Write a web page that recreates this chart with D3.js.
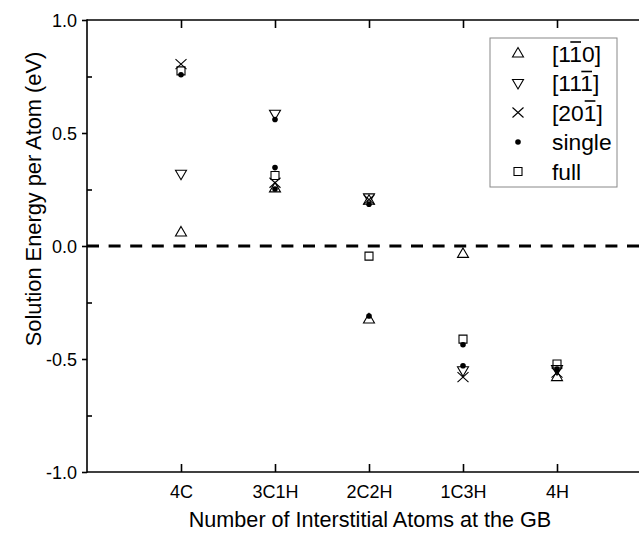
<!DOCTYPE html>
<html lang="en">
	<head>
		<meta charset="UTF-8" />
		<title>Solution Energy per Atom</title>
		<script src="https://d3js.org/d3.v7.min.js"></script>
		<style>
			html, body {
				margin: 0;
				padding: 0;
				background: #fff;
			}
			svg {
				font-family: 'Liberation Sans', Arial, sans-serif;
				display: block;
			}
		</style>
	</head>
	<body>
		<svg id="chart" width="639" height="539"></svg>
		<script>
			const categories = ['4C', '3C1H', '2C2H', '1C3H', '4H'];
			const yTicks = [-1.0, -0.5, 0.0, 0.5, 1.0];
			const yMinorTicks = [-0.75, -0.25, 0.25, 0.75];

			// [category, value] pairs
			const dir110 = [['4C', 0.06], ['3C1H', 0.255], ['2C2H', 0.2], ['2C2H', -0.325], ['1C3H', -0.035], ['4H', -0.58]];
			const dir111 = [['4C', 0.32], ['3C1H', 0.585], ['2C2H', 0.215], ['1C3H', -0.55], ['4H', -0.545]];
			const dir201 = [['4C', 0.805], ['3C1H', 0.28], ['2C2H', 0.205], ['1C3H', -0.58], ['4H', -0.56]];
			const single = [['4C', 0.758], ['3C1H', 0.56], ['3C1H', 0.347], ['3C1H', 0.252], ['2C2H', 0.185], ['2C2H', -0.31], ['1C3H', -0.437], ['1C3H', -0.53], ['4H', -0.545]];
			const full = [['4C', 0.775], ['3C1H', 0.312], ['2C2H', -0.045], ['1C3H', -0.412], ['4H', -0.522]];

			const svg = d3.select('#chart');
			const margin = { left: 87, top: 20, bottom: 472 };
			const step = 94;

			// category i sits at i+1 on a 0..6 band; the right frame falls off the picture
			const x = d3
				.scaleLinear()
				.domain([0, categories.length + 1])
				.range([margin.left, margin.left + step * (categories.length + 1)]);
			const xc = (c) => x(categories.indexOf(c) + 1);

			const y = d3.scaleLinear().domain([-1, 1]).range([margin.bottom, margin.top]);

			const right = x(categories.length + 1);

			// zero line
			svg
				.append('line')
				.attr('x1', margin.left)
				.attr('x2', right)
				.attr('y1', y(0))
				.attr('y2', y(0))
				.attr('stroke', '#000')
				.attr('stroke-width', 3)
				.attr('stroke-dasharray', '12,9.6');

			// frame
			const frame = svg.append('g').attr('stroke', '#000').attr('stroke-width', 1.6);
			frame.append('line').attr('x1', margin.left).attr('x2', right).attr('y1', margin.top).attr('y2', margin.top);
			frame.append('line').attr('x1', margin.left).attr('x2', right).attr('y1', margin.bottom).attr('y2', margin.bottom);
			frame.append('line').attr('x1', margin.left).attr('x2', margin.left).attr('y1', margin.top - 0.8).attr('y2', margin.bottom + 0.8);

			// bottom axis, ticks inward
			const xAxis = d3
				.axisBottom(x)
				.tickValues(categories.map((c, i) => i + 1))
				.tickFormat((d) => categories[d - 1])
				.tickSizeInner(-8)
				.tickSizeOuter(0)
				.tickPadding(13);
			const gx = svg.append('g').attr('transform', `translate(0,${margin.bottom})`).call(xAxis);
			gx.select('.domain').remove();
			gx.selectAll('line').attr('stroke-width', 1.6);
			gx.selectAll('text').attr('font-size', 18).attr('fill', '#000').attr('font-family', null);

			// top ticks
			const gt = svg
				.append('g')
				.attr('transform', `translate(0,${margin.top})`)
				.call(d3.axisTop(x).tickValues(categories.map((c, i) => i + 1)).tickSizeInner(-8).tickSizeOuter(0).tickFormat(''));
			gt.select('.domain').remove();
			gt.selectAll('line').attr('stroke-width', 1.6);

			// left axis: major ticks out, minor in
			const fmt = d3.format('.1f');
			const yAxis = d3
				.axisLeft(y)
				.tickValues(yTicks)
				.tickFormat((d) => fmt(d).replace('\u2212', '-'))
				.tickSizeInner(5)
				.tickSizeOuter(0)
				.tickPadding(5);
			const gy = svg.append('g').attr('transform', `translate(${margin.left},0)`).call(yAxis);
			gy.select('.domain').remove();
			gy.selectAll('line').attr('stroke-width', 1.6);
			gy.selectAll('text').attr('font-size', 18).attr('fill', '#000').attr('font-family', null).attr('dy', '0.35em');

			const gym = svg
				.append('g')
				.attr('transform', `translate(${margin.left},0)`)
				.call(d3.axisLeft(y).tickValues(yMinorTicks).tickSizeInner(-5).tickSizeOuter(0).tickFormat(''));
			gym.select('.domain').remove();
			gym.selectAll('line').attr('stroke-width', 1.6);

			// axis titles
			svg
				.append('text')
				.attr('x', 370)
				.attr('y', 527)
				.attr('text-anchor', 'middle')
				.attr('font-size', 21.6)
				.text('Number of Interstitial Atoms at the GB');
			svg
				.append('text')
				.attr('transform', 'translate(41,199) rotate(-90)')
				.attr('text-anchor', 'middle')
				.attr('font-size', 21.8)
				.text('Solution Energy per Atom (eV)');

			// markers
			const marker = {
				up: 'M0,-6L5.5,3.5L-5.5,3.5Z',
				down: 'M0,6L5.5,-3.5L-5.5,-3.5Z',
				cross: 'M-5.5,-5L5.5,5M-5.5,5L5.5,-5',
				square: 'M-4,-4H4V4H-4Z',
			};

			const drawSeries = (data, shape) => {
				svg
					.append('g')
					.selectAll('path')
					.data(data)
					.enter()
					.append('path')
					.attr('transform', (d) => `translate(${xc(d[0])},${y(d[1])})`)
					.attr('d', marker[shape])
					.attr('fill', 'none')
					.attr('stroke', '#000')
					.attr('stroke-width', 1.1);
			};

			drawSeries(dir110, 'up');
			drawSeries(dir111, 'down');
			drawSeries(dir201, 'cross');
			drawSeries(full, 'square');
			svg
				.append('g')
				.selectAll('circle')
				.data(single)
				.enter()
				.append('circle')
				.attr('cx', (d) => xc(d[0]))
				.attr('cy', (d) => y(d[1]))
				.attr('r', 2.8)
				.attr('fill', '#000');

			// legend
			const legend = svg.append('g');
			legend
				.append('rect')
				.attr('x', 490)
				.attr('y', 38)
				.attr('width', 127)
				.attr('height', 149)
				.attr('fill', '#fff')
				.attr('stroke', '#888')
				.attr('stroke-width', 1);

			const legendRows = [
				{ shape: 'up', parts: ['[1', '1', '0]'], bar: 1 },
				{ shape: 'down', parts: ['[11', '1', ']'], bar: 1 },
				{ shape: 'cross', parts: ['[20', '1', ']'], bar: 1 },
				{ shape: 'dot', parts: ['single'], bar: -1 },
				{ shape: 'square', parts: ['full'], bar: -1 },
			];

			legendRows.forEach((row, i) => {
				const cy = 53.5 + i * 29.5;
				if (row.shape === 'dot') {
					legend.append('circle').attr('cx', 518).attr('cy', cy).attr('r', 2.8).attr('fill', '#000');
				} else {
					legend
						.append('path')
						.attr('transform', `translate(518,${cy})`)
						.attr('d', marker[row.shape])
						.attr('fill', 'none')
						.attr('stroke', '#000')
						.attr('stroke-width', 1.1);
				}
				const t = legend.append('text').attr('x', 552).attr('y', cy + 8).attr('font-size', 22.8);
				row.parts.forEach((p, j) => {
					const ts = t.append('tspan').text(p);
					if (j === row.bar) ts.attr('class', 'bar');
				});
				t.selectAll('tspan.bar').each(function () {
					const n = this;
					const start = n.getStartPositionOfChar(0);
					const len = n.getComputedTextLength();
					legend
						.append('line')
						.attr('x1', start.x + 1)
						.attr('x2', start.x + len - 1)
						.attr('y1', cy - 11.5)
						.attr('y2', cy - 11.5)
						.attr('stroke', '#000')
						.attr('stroke-width', 1.6);
				});
			});
		</script>
	</body>
</html>
